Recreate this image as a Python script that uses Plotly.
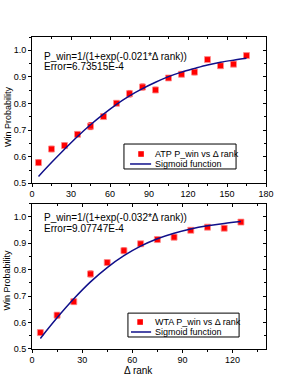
import plotly.graph_objects as go

# ---- data ----
atp_rank = [5, 15, 25, 35, 45, 55, 65, 75, 85, 95, 105, 115, 125, 135, 145, 155, 165]
atp_pwin = [0.578, 0.629, 0.642, 0.684, 0.715, 0.751, 0.801, 0.837, 0.862, 0.851,
            0.896, 0.910, 0.918, 0.965, 0.942, 0.948, 0.980]
atp_err = [0.011, 0.010, 0.010, 0.008, 0.013, 0.008, 0.008, 0.012, 0.011, 0.010,
           0.009, 0.009, 0.010, 0.007, 0.008, 0.009, 0.007]
atp_fit = [0.526, 0.578, 0.628, 0.676, 0.720, 0.760, 0.797, 0.829, 0.856, 0.880,
           0.901, 0.918, 0.932, 0.945, 0.955, 0.963, 0.970]

wta_rank = [5, 15, 25, 35, 45, 55, 65, 75, 85, 95, 105, 115, 125]
wta_pwin = [0.562, 0.628, 0.679, 0.784, 0.827, 0.872, 0.898, 0.914, 0.923, 0.949,
            0.961, 0.957, 0.980]
wta_err = [0.009, 0.010, 0.010, 0.011, 0.009, 0.011, 0.008, 0.009, 0.009, 0.008,
           0.007, 0.007, 0.007]
wta_fit = [0.540, 0.618, 0.690, 0.754, 0.808, 0.853, 0.889, 0.917, 0.938, 0.954,
           0.966, 0.975, 0.982]

atp_label = "ATP P_win vs Δ rank"
wta_label = "WTA P_win vs Δ rank"
fit_label = "Sigmoid function"
atp_formula = ["P_win=1/(1+exp(-0.021*Δ rank))", "Error=6.73515E-4"]
wta_formula = ["P_win=1/(1+exp(-0.032*Δ rank))", "Error=9.07747E-4"]
x_title = "Δ rank"
y_title = "Win Probability"

RED = "#ff0000"
NAVY = "#10108a"
FONT = "Liberation Sans, Arial, sans-serif"

fig = go.Figure()

marker = dict(symbol="square", size=6, color=RED, line=dict(color="#ff9090", width=0.8))

fig.add_trace(go.Scatter(
    x=atp_rank, y=atp_pwin, mode="markers", name=atp_label, showlegend=False,
    marker=marker,
    error_y=dict(type="data", array=atp_err, color=RED, thickness=1, width=2),
    xaxis="x", yaxis="y"))
fig.add_trace(go.Scatter(
    x=atp_rank, y=atp_fit, mode="lines", name=fit_label, line_shape="spline",
    showlegend=False, line=dict(color=NAVY, width=1.5), xaxis="x", yaxis="y"))

fig.add_trace(go.Scatter(
    x=wta_rank, y=wta_pwin, mode="markers", name=wta_label, showlegend=False,
    marker=marker,
    error_y=dict(type="data", array=wta_err, color=RED, thickness=1, width=2),
    xaxis="x2", yaxis="y2"))
fig.add_trace(go.Scatter(
    x=wta_rank, y=wta_fit, mode="lines", name=fit_label, line_shape="spline",
    showlegend=False, line=dict(color=NAVY, width=1.5), xaxis="x2", yaxis="y2"))

# empty traces to activate the mirrored (inside-tick) overlay axes
fig.add_trace(go.Scatter(x=[], y=[], xaxis="x3", yaxis="y3", showlegend=False, hoverinfo="skip"))
fig.add_trace(go.Scatter(x=[], y=[], xaxis="x4", yaxis="y4", showlegend=False, hoverinfo="skip"))

base = dict(
    showline=True, linecolor="black", linewidth=1, mirror=True,
    ticks="outside", ticklen=3, tickcolor="black", showgrid=False, zeroline=False,
    automargin=False, tickfont=dict(size=9, color="black", family=FONT),
)
minor_out = dict(ticks="outside", ticklen=2, tickcolor="black", showgrid=False)
inside = dict(showline=False, ticks="inside", ticklen=3, tickcolor="black",
              showgrid=False, zeroline=False, showticklabels=False, automargin=False)
minor_in = dict(ticks="inside", ticklen=2, tickcolor="black", showgrid=False)

TOP = [0.531, 1.0]
BOT = [0.0, 0.466]

fig.update_layout(
    width=291, height=376,
    margin=dict(l=32, r=25, t=37, b=27),
    paper_bgcolor="white", plot_bgcolor="white",
    font=dict(family=FONT, size=10, color="black"),
    showlegend=False,
    xaxis=dict(domain=[0, 1], anchor="y", range=[0, 180], dtick=30, tick0=0,
               ticklabelstandoff=-1, minor=dict(dtick=15, **minor_out), **base),
    yaxis=dict(domain=TOP, anchor="x", range=[0.5, 1.05], dtick=0.1, tick0=0.5,
               tickformat=".1f", minor=dict(dtick=0.05, **minor_out), **base),
    xaxis2=dict(domain=[0, 1], anchor="y2", range=[0, 140], dtick=30, tick0=0,
                ticklabelstandoff=-1, minor=dict(dtick=15, **minor_out), **base),
    yaxis2=dict(domain=BOT, anchor="x2", range=[0.5, 1.05], dtick=0.1, tick0=0.5,
                tickformat=".1f", minor=dict(dtick=0.05, **minor_out), **base),
    xaxis3=dict(overlaying="x", side="top", anchor="y", range=[0, 180], dtick=30,
                tick0=0, minor=dict(dtick=15, **minor_in), **inside),
    yaxis3=dict(overlaying="y", side="right", anchor="x", range=[0.5, 1.05], dtick=0.1,
                tick0=0.5, minor=dict(dtick=0.05, **minor_in), **inside),
    xaxis4=dict(overlaying="x2", side="top", anchor="y2", range=[0, 140], dtick=30,
                tick0=0, minor=dict(dtick=15, **minor_in), **inside),
    yaxis4=dict(overlaying="y2", side="right", anchor="x2", range=[0.5, 1.05], dtick=0.1,
                tick0=0.5, minor=dict(dtick=0.05, **minor_in), **inside),
)

ann = []
# ---- axis titles ----
for yy in (0.745, 0.221):
    ann.append(dict(text=y_title, xref="paper", yref="paper", x=-0.105, y=yy,
                    xanchor="center", yanchor="middle", textangle=-90,
                    showarrow=False, font=dict(size=9)))
ann.append(dict(text=x_title, xref="paper", yref="paper", x=0.453, y=-0.068,
                xanchor="center", yanchor="middle", showarrow=False, font=dict(size=10)))

# ---- formula annotations ----
for lines, y1, y2 in [(atp_formula, 0.939, 0.904), (wta_formula, 0.420, 0.385)]:
    for txt, yy in zip(lines, [y1, y2]):
        ann.append(dict(text=txt, xref="paper", yref="paper", x=0.043, y=yy,
                        xanchor="left", yanchor="middle", showarrow=False,
                        font=dict(size=10)))

# ---- legend boxes (drawn as text + sample shapes) ----
shapes = []
W, H = 234.0, 312.0  # plot area size in px (paper units)
for (bx0, bx1, by0, by1, ymk, yln, mx, lx0, lx1, tx, lab) in [
    (0.393, 0.872, 0.577, 0.657, 0.625, 0.593, 0.466, 0.419, 0.509, 0.517, atp_label),
    (0.410, 0.885, 0.0385, 0.115, 0.0865, 0.0545, 0.462, 0.423, 0.509, 0.517, wta_label),
]:
    shapes.append(dict(type="rect", xref="paper", yref="paper", x0=bx0, x1=bx1,
                       y0=by0, y1=by1, line=dict(color="black", width=1),
                       fillcolor="white", layer="above"))
    shapes.append(dict(type="rect", xref="paper", yref="paper",
                       x0=mx - 2.8 / W, x1=mx + 2.8 / W, y0=ymk - 2.8 / H, y1=ymk + 2.8 / H,
                       line=dict(width=0), fillcolor=RED, layer="above"))
    shapes.append(dict(type="line", xref="paper", yref="paper", x0=lx0, x1=lx1,
                       y0=yln, y1=yln, line=dict(color=NAVY, width=1.5), layer="above"))
    ann.append(dict(text=lab, xref="paper", yref="paper", x=tx, y=ymk,
                    xanchor="left", yanchor="middle", showarrow=False, font=dict(size=9)))
    ann.append(dict(text=fit_label, xref="paper", yref="paper", x=tx, y=yln,
                    xanchor="left", yanchor="middle", showarrow=False, font=dict(size=9)))

fig.update_layout(annotations=ann, shapes=shapes)

# remove the browser's default 8px body margin so the figure fills the window exactly
fig.write_html("out.html", config={"displayModeBar": False},
               post_script="document.body.style.margin='0';document.body.style.overflow='hidden';")
